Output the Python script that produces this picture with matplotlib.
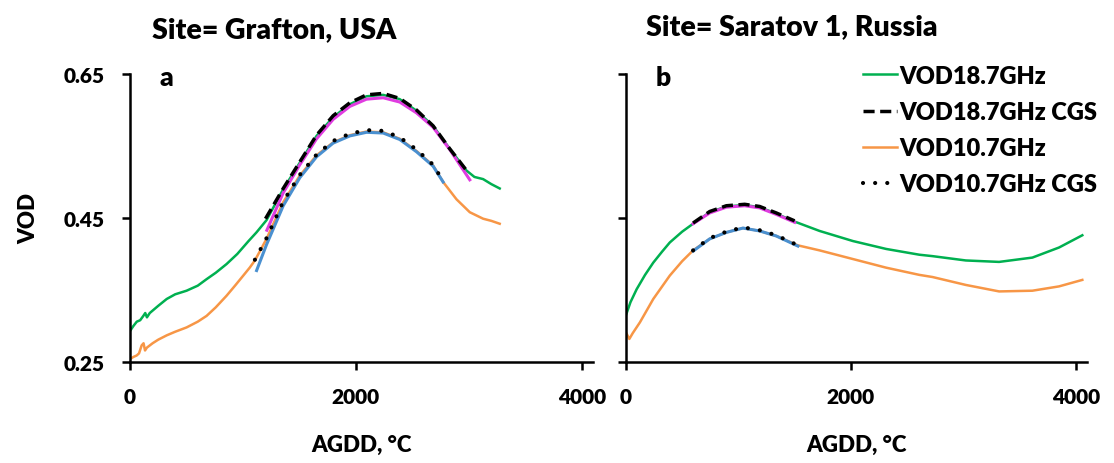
import matplotlib
matplotlib.use("Agg")
import matplotlib.pyplot as plt

plt.rcParams['font.family'] = ['Lato', 'DejaVu Sans']
plt.rcParams['font.weight'] = 'heavy'
plt.rcParams['axes.labelweight'] = 'heavy'

# panel a: Grafton, USA
a_g_x = [0, 30, 60, 90, 118, 135, 150, 175, 250, 325, 400, 501, 600, 678, 760, 855, 950, 1050, 1120, 1209,
         1357, 1504, 1652, 1799, 1947, 2094, 2242, 2389, 2537, 2684, 2832, 2979, 3050, 3127, 3200, 3274]
a_g_v = [0.293, 0.300, 0.306, 0.308, 0.314, 0.318, 0.312, 0.318, 0.328, 0.3375, 0.344, 0.349, 0.356, 0.365,
         0.374, 0.386, 0.400, 0.418, 0.430, 0.447, 0.490, 0.527, 0.564, 0.590, 0.608, 0.619, 0.621, 0.615,
         0.599, 0.578, 0.546, 0.516, 0.507, 0.504, 0.497, 0.491]
a_gc_x = [1200, 1357, 1504, 1652, 1799, 1947, 2094, 2242, 2389, 2537, 2684, 2832, 2990]
a_gc_v = [0.449, 0.491, 0.528, 0.565, 0.592, 0.610, 0.621, 0.623, 0.616, 0.600, 0.578, 0.546, 0.514]
a_gf_x = [1212, 1357, 1504, 1652, 1799, 1947, 2094, 2242, 2389, 2537, 2684, 2832, 3009]
a_gf_v = [0.433, 0.485, 0.524, 0.560, 0.587, 0.605, 0.615, 0.617, 0.611, 0.596, 0.576, 0.545, 0.503]

a_o_x = [0, 30, 59, 80, 103, 120, 133, 150, 200, 250, 325, 400, 501, 600, 678, 760, 855, 930, 1003, 1060,
         1106, 1209, 1357, 1504, 1652, 1799, 1947, 2094, 2242, 2389, 2537, 2684, 2773, 2891, 3009, 3127,
         3200, 3274]
a_o_v = [0.254, 0.257, 0.259, 0.262, 0.273, 0.276, 0.266, 0.270, 0.276, 0.281, 0.287, 0.292, 0.298, 0.306,
         0.314, 0.326, 0.342, 0.356, 0.370, 0.381, 0.391, 0.421, 0.472, 0.509, 0.537, 0.555, 0.565, 0.570,
         0.569, 0.560, 0.543, 0.523, 0.500, 0.476, 0.458, 0.449, 0.446, 0.442]
a_oc_x = [1106, 1209, 1357, 1504, 1652, 1799, 1947, 2094, 2242, 2389, 2537, 2684, 2773]
a_oc_v = [0.392, 0.422, 0.473, 0.510, 0.538, 0.557, 0.567, 0.572, 0.571, 0.562, 0.545, 0.524, 0.501]
a_of_x = [1121, 1209, 1357, 1504, 1652, 1799, 1947, 2094, 2242, 2389, 2537, 2684, 2773]
a_of_v = [0.377, 0.413, 0.467, 0.506, 0.535, 0.554, 0.564, 0.569, 0.568, 0.559, 0.542, 0.522, 0.500]

# panel b: Saratov 1, Russia
b_g_x = [0, 40, 95, 170, 243, 320, 390, 500, 597, 745, 893, 1056, 1189, 1337, 1500, 1722, 2018, 2314,
         2609, 2727, 3023, 3319, 3615, 3852, 4059]
b_g_v = [0.315, 0.333, 0.351, 0.371, 0.388, 0.403, 0.416, 0.431, 0.442, 0.458, 0.466, 0.468, 0.465, 0.456,
         0.445, 0.432, 0.418, 0.407, 0.399, 0.397, 0.391, 0.389, 0.395, 0.409, 0.426]
b_gc_x = [597, 745, 893, 1056, 1189, 1337, 1500]
b_gc_v = [0.443, 0.459, 0.467, 0.469, 0.466, 0.457, 0.446]
b_gf_v = [0.442, 0.457, 0.465, 0.467, 0.464, 0.455, 0.444]

b_o_x = [0, 30, 60, 124, 243, 390, 500, 597, 745, 893, 1041, 1189, 1337, 1529, 1722, 2018, 2314, 2609,
         2727, 3023, 3319, 3615, 3852, 4059]
b_o_v = [0.291, 0.282, 0.290, 0.305, 0.3375, 0.370, 0.390, 0.405, 0.421, 0.430, 0.436, 0.432, 0.425, 0.412,
         0.405, 0.393, 0.381, 0.371, 0.368, 0.357, 0.348, 0.349, 0.355, 0.364]
b_oc_x = [597, 745, 893, 1041, 1189, 1337, 1529]
b_oc_v = [0.405, 0.422, 0.431, 0.437, 0.433, 0.426, 0.412]
b_of_v = [0.404, 0.421, 0.430, 0.436, 0.432, 0.425, 0.411]

labels = ['VOD18.7GHz', 'VOD18.7GHz CGS', 'VOD10.7GHz', 'VOD10.7GHz CGS']
yticks = [0.25, 0.45, 0.65]
xticks = [0, 2000, 4000]

GREEN = '#00B050'
ORANGE = '#F79646'
MAGENTA = '#E03CE0'
BLUE = '#4A90D0'

fig = plt.figure(figsize=(11.14, 4.64), dpi=100)
ax1 = fig.add_axes([0.1167, 0.2177, 0.4156, 0.6207])
ax2 = fig.add_axes([0.5619, 0.2177, 0.4138, 0.6207])


def draw(ax, gx, gv, gcx, gcv, gfx, gfv, ox, ov, ocx, ocv, ofx, ofv):
    h1, = ax.plot(gx, gv, color=GREEN, lw=1.8)
    h3, = ax.plot(ox, ov, color=ORANGE, lw=1.8)
    ax.plot(gfx, gfv, color=MAGENTA, lw=2.2)
    ax.plot(ofx, ofv, color=BLUE, lw=2.2)
    h2, = ax.plot(gcx, gcv, color='black', lw=2.5, linestyle=(0, (3.2, 1.6)))
    h4, = ax.plot(ocx, ocv, color='black', lw=3, linestyle=(0, (0.01, 2.9)),
                  dash_capstyle='round')
    ax.set_xlim(0, 4100)
    ax.set_ylim(0.25, 0.65)
    ax.set_xticks(xticks)
    ax.set_yticks(yticks)
    for s in ['top', 'right']:
        ax.spines[s].set_visible(False)
    for s in ['left', 'bottom']:
        ax.spines[s].set_linewidth(1.8)
    ax.tick_params(width=1.8, length=6, labelsize=15, pad=12)
    ax.set_xlabel('AGDD, \u00b0C', fontsize=16, labelpad=20)
    return [h1, h2, h3, h4]


draw(ax1, a_g_x, a_g_v, a_gc_x, a_gc_v, a_gf_x, a_gf_v, a_o_x, a_o_v, a_oc_x, a_oc_v, a_of_x, a_of_v)
handles = draw(ax2, b_g_x, b_g_v, b_gc_x, b_gc_v, b_gc_x, b_gf_v, b_o_x, b_o_v, b_oc_x, b_oc_v, b_oc_x, b_of_v)

ax1.set_yticklabels(['0.25', '0.45', '0.65'])
ax2.set_yticklabels([])
ax1.set_ylabel('VOD', fontsize=16, labelpad=18)

ax1.text(0.063, 0.99, 'a', transform=ax1.transAxes, fontsize=19, va='center')
ax2.text(0.065, 0.99, 'b', transform=ax2.transAxes, fontsize=19, va='center')

fig.text(0.246, 0.935, 'Site= Grafton, USA', fontsize=20.5, ha='center', va='center')
fig.text(0.711, 0.942, 'Site= Saratov 1, Russia', fontsize=20.5, ha='center', va='center')

leg = ax2.legend(handles, labels, loc='upper left', bbox_to_anchor=(0.764, 0.884),
                 bbox_transform=fig.transFigure, frameon=False, fontsize=17,
                 handlelength=1.45, handletextpad=0.1, labelspacing=0.6, borderpad=0)

fig.savefig('out.png', dpi=100)
